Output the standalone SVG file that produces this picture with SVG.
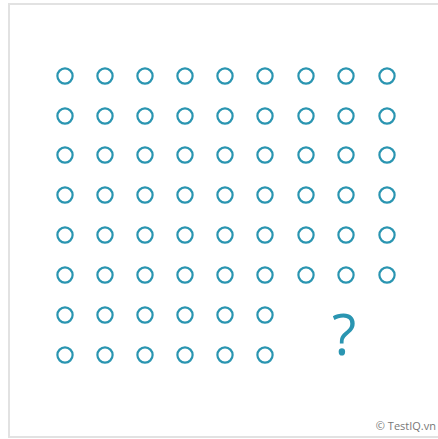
<svg xmlns="http://www.w3.org/2000/svg" width="438" height="439" viewBox="0 0 438 439">
<style>
.c{fill:none;stroke:#2a95b1;stroke-width:2.2}
.q{font-family:"Open Sans","Liberation Sans",sans-serif;font-size:56px;fill:#2a95b1}
.cr{font-family:"Open Sans","Liberation Sans",sans-serif;font-size:11px;fill:#777}
</style>
<defs><circle id="o" r="7.6" class="c"/></defs>
<rect x="9" y="4" width="440" height="433" fill="#fff" stroke="#e2e2e2" stroke-width="2"/>
<g id="grid">
<g id="row1"><use href="#o" x="65" y="76"/><use href="#o" x="105" y="76"/><use href="#o" x="145" y="76"/><use href="#o" x="185" y="76"/><use href="#o" x="225" y="76"/><use href="#o" x="265" y="76"/><use href="#o" x="306" y="76"/><use href="#o" x="346" y="76"/><use href="#o" x="387" y="76"/></g>
<g id="row2"><use href="#o" x="65" y="116"/><use href="#o" x="105" y="116"/><use href="#o" x="145" y="116"/><use href="#o" x="185" y="116"/><use href="#o" x="225" y="116"/><use href="#o" x="265" y="116"/><use href="#o" x="306" y="116"/><use href="#o" x="346" y="116"/><use href="#o" x="387" y="116"/></g>
<g id="row3"><use href="#o" x="65" y="155"/><use href="#o" x="105" y="155"/><use href="#o" x="145" y="155"/><use href="#o" x="185" y="155"/><use href="#o" x="225" y="155"/><use href="#o" x="265" y="155"/><use href="#o" x="306" y="155"/><use href="#o" x="346" y="155"/><use href="#o" x="387" y="155"/></g>
<g id="row4"><use href="#o" x="65" y="195"/><use href="#o" x="105" y="195"/><use href="#o" x="145" y="195"/><use href="#o" x="185" y="195"/><use href="#o" x="225" y="195"/><use href="#o" x="265" y="195"/><use href="#o" x="306" y="195"/><use href="#o" x="346" y="195"/><use href="#o" x="387" y="195"/></g>
<g id="row5"><use href="#o" x="65" y="235"/><use href="#o" x="105" y="235"/><use href="#o" x="145" y="235"/><use href="#o" x="185" y="235"/><use href="#o" x="225" y="235"/><use href="#o" x="265" y="235"/><use href="#o" x="306" y="235"/><use href="#o" x="346" y="235"/><use href="#o" x="387" y="235"/></g>
<g id="row6"><use href="#o" x="65" y="275"/><use href="#o" x="105" y="275"/><use href="#o" x="145" y="275"/><use href="#o" x="185" y="275"/><use href="#o" x="225" y="275"/><use href="#o" x="265" y="275"/><use href="#o" x="306" y="275"/><use href="#o" x="346" y="275"/><use href="#o" x="387" y="275"/></g>
<g id="row7"><use href="#o" x="65" y="315"/><use href="#o" x="105" y="315"/><use href="#o" x="145" y="315"/><use href="#o" x="185" y="315"/><use href="#o" x="225" y="315"/><use href="#o" x="265" y="315"/></g>
<g id="row8"><use href="#o" x="65" y="355"/><use href="#o" x="105" y="355"/><use href="#o" x="145" y="355"/><use href="#o" x="185" y="355"/><use href="#o" x="225" y="355"/><use href="#o" x="265" y="355"/></g>
</g>
<text class="q" x="344" y="355" text-anchor="middle">?</text>
<text class="cr" x="436" y="430" text-anchor="end">© TestIQ.vn</text>
</svg>
